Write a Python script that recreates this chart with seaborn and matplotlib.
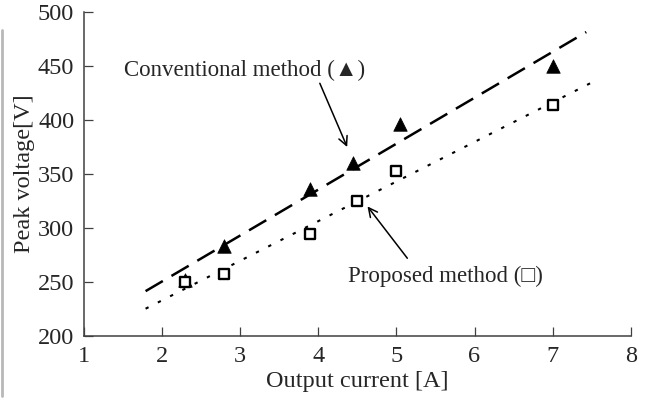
import numpy as np
import pandas as pd
import matplotlib
matplotlib.use("Agg")
import matplotlib.pyplot as plt
import seaborn as sns
from matplotlib.lines import Line2D

# Data
current_conv = [2.3, 2.8, 3.9, 4.45, 5.05, 7.0]
voltage_conv = [252, 283, 336, 360, 396, 450]
current_prop = [2.3, 2.8, 3.9, 4.5, 5.0, 7.0]
voltage_prop = [250, 257, 294, 325, 353, 414]

# extent of the fitted lines
fit_range_conv = [1.79, 7.43]
fit_range_prop = [1.79, 7.51]

x_ticks = [1, 2, 3, 4, 5, 6, 7, 8]
y_ticks = [200, 250, 300, 350, 400, 450, 500]

sns.set_style("ticks")
plt.rcParams['font.family'] = ['Liberation Serif', 'DejaVu Sans']
plt.rcParams['font.size'] = 16

df_conv = pd.DataFrame({"current": current_conv, "voltage": voltage_conv})
df_prop = pd.DataFrame({"current": current_prop, "voltage": voltage_prop})

# least squares trend lines
k1, b1 = np.polyfit(current_conv, voltage_conv, 1)
k2, b2 = np.polyfit(current_prop, voltage_prop, 1)
fit_conv = pd.DataFrame({"current": fit_range_conv})
fit_conv["voltage"] = k1 * fit_conv["current"] + b1
fit_prop = pd.DataFrame({"current": fit_range_prop})
fit_prop["voltage"] = k2 * fit_prop["current"] + b2

fig = plt.figure(figsize=(6.45, 4.0), dpi=100)
ax = fig.add_axes([0.130, 0.16, 0.848, 0.81])

sns.lineplot(data=fit_conv, x="current", y="voltage", ax=ax,
             color="black", linewidth=1.8)
ax.lines[-1].set_dashes((8, 4))
sns.lineplot(data=fit_prop, x="current", y="voltage", ax=ax,
             color="black", linewidth=1.5)
ax.lines[-1].set_dashes((1.6, 5))

sns.scatterplot(data=df_conv, x="current", y="voltage", ax=ax,
                marker="^", s=95, color="black", edgecolor="black",
                linewidth=0.5, zorder=3)
sns.scatterplot(data=df_prop, x="current", y="voltage", ax=ax,
                marker="s", s=62, facecolor="white", edgecolor="black",
                linewidth=1.7, zorder=4)

ax.set_xlim(1, 8)
ax.set_ylim(200, 500)
ax.set_xticks(x_ticks)
ax.set_yticks(y_ticks)
ax.set_xlabel("Output current [A]", fontsize=17.5, labelpad=3)
ax.set_ylabel("Peak voltage[V]", fontsize=17.5, labelpad=2)
ax.tick_params(direction="in", length=6.5, width=0.9, pad=7,
               labelsize=17.5, color="#404040")

sns.despine(ax=ax)
for side in ["left", "bottom"]:
    ax.spines[side].set_color("#404040")
    ax.spines[side].set_linewidth(1.1)

# annotations: text and arrow drawn separately
ax.text(3.06, 446, "Conventional method (▲)", ha="center", va="center",
        fontsize=16.5)
ax.annotate("", xy=(4.37, 375), xytext=(4.02, 434),
            arrowprops=dict(arrowstyle="->", color="black", lw=1.1,
                            shrinkA=0, shrinkB=0))
ax.text(5.63, 255, "Proposed method (□)", ha="center", va="center",
        fontsize=16.5)
ax.annotate("", xy=(4.63, 320), xytext=(5.14, 272),
            arrowprops=dict(arrowstyle="->", color="black", lw=1.1,
                            shrinkA=0, shrinkB=0))

# grey frame edge on the far left
fig.add_artist(Line2D([0.003, 0.003], [0.01, 0.925], transform=fig.transFigure,
                      color="#b8b8b8", linewidth=2))

fig.savefig("out.png", dpi=100)
